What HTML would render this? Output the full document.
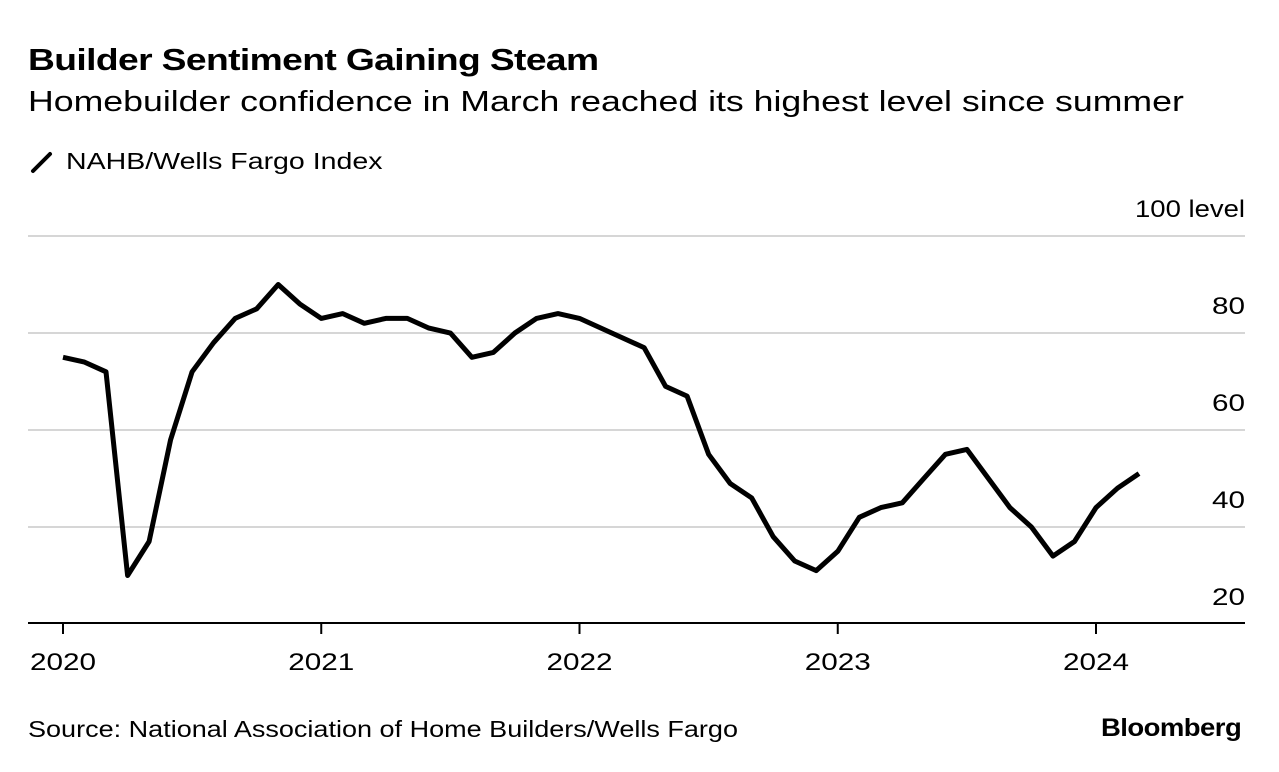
<!DOCTYPE html>
<html><head><meta charset="utf-8"><style>
body{margin:0;background:#fff;font-family:"Liberation Sans",sans-serif;}
#wrap{position:relative;width:1279px;height:772px;overflow:hidden;}
.t{position:absolute;white-space:nowrap;color:#000;transform-origin:0 0;}
</style></head><body>
<div id="wrap">
<div class="t" style="left:28px;top:42px;font-size:31px;font-weight:bold;letter-spacing:-0.5px;transform:scaleX(1.2)">Builder Sentiment Gaining Steam</div>
<div class="t" style="left:28px;top:86px;font-size:29px;transform:scaleX(1.23)">Homebuilder confidence in March reached its highest level since summer</div>
<svg width="26" height="24" style="position:absolute;left:29px;top:150px"><line x1="4" y1="21" x2="21" y2="4" stroke="#000" stroke-width="4" stroke-linecap="round"/></svg>
<div class="t" style="left:66px;top:148px;font-size:23px;transform:scaleX(1.24)">NAHB/Wells Fargo Index</div>
<svg id="chart" width="1279" height="772" style="position:absolute;left:0;top:0"></svg>
<div class="t" style="left:28px;top:716px;font-size:23px;transform:scaleX(1.175)">Source: National Association of Home Builders/Wells Fargo</div>
<div class="t" style="left:1101px;top:714px;font-size:25px;font-weight:bold;letter-spacing:-0.5px;transform:scaleX(1.1)">Bloomberg</div>
</div>
<script>
const values=[75,74,72,30,37,58,72,78,83,85,90,86,83,84,82,83,83,81,80,75,76,80,83,84,83,81,79,77,69,67,55,49,46,38,33,31,35,42,44,45,50,55,56,50,44,40,34,37,44,48,51];
const yTicks=[20,40,60,80,100];
const xYears=[2020,2021,2022,2023,2024];
const svg=document.getElementById('chart');
const NS='http://www.w3.org/2000/svg';
function x(i){return 63+i*(1096-63)/48;}
function y(v){return 624-(v-20)*(624-236)/80;}
function mk(t,a){const e=document.createElementNS(NS,t);for(const k in a)e.setAttribute(k,a[k]);svg.appendChild(e);return e;}
yTicks.forEach(v=>{
 if(v>20){const g=mk('line',{x1:28,x2:1245,y1:y(v),y2:y(v),stroke:'#d6d6d6','stroke-width':2});
 
 }
 const lbl=v===100?'100 level':String(v);
 const t=mk('text',{x:1245,y:y(v)-19,'text-anchor':'end','font-size':24,'font-family':'Liberation Sans, sans-serif',textLength:v===100?110:33,lengthAdjust:'spacingAndGlyphs'});
 t.textContent=lbl;
 
 
});
const ax=mk('line',{x1:28,x2:1245,y1:623,y2:623,stroke:'#000','stroke-width':2});


xYears.forEach((yr,k)=>{
 const xx=x(k*12);
 const tk=mk('line',{x1:xx,x2:xx,y1:623,y2:634,stroke:'#000','stroke-width':2});
 
 
 const t=mk('text',{x:xx,y:670,'text-anchor':'middle','font-size':24,'font-family':'Liberation Sans, sans-serif',textLength:66,lengthAdjust:'spacingAndGlyphs'});
 t.textContent=yr;
 
 
});
const d=values.map((v,i)=>(i?'L':'M')+x(i).toFixed(1)+','+y(v).toFixed(1)).join('');
const p=mk('path',{d:d,fill:'none',stroke:'#000','stroke-width':5,'stroke-linejoin':'round','stroke-linecap':'butt'});


</script>
</body></html>
